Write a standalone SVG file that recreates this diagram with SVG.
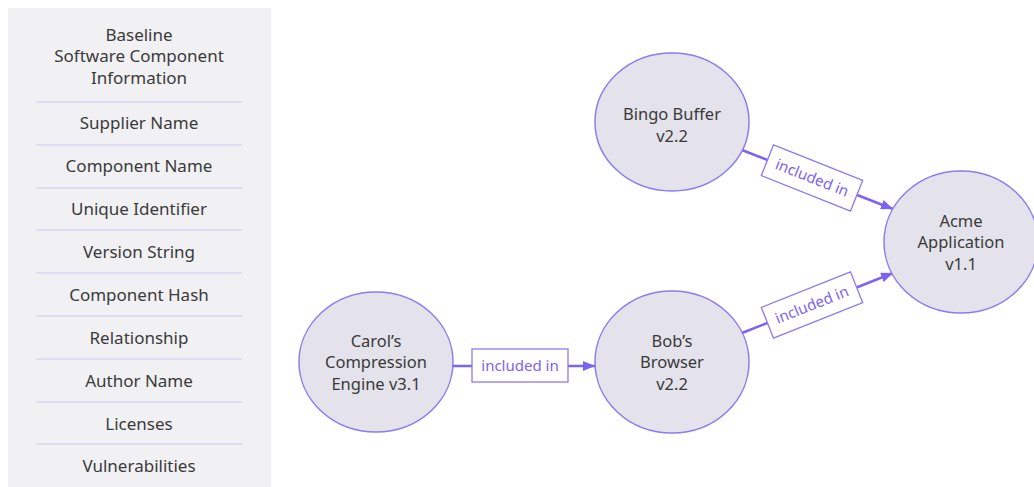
<svg xmlns="http://www.w3.org/2000/svg" width="1034" height="487" viewBox="0 0 1034 487">
  <style>
    .panel { fill: #f1f1f4; }
    .divider { stroke: #cdc8f3; stroke-width: 1.2; }
    .ptext { font-family: "Noto Sans", "Open Sans", sans-serif; font-size: 17px; fill: #3a3a3a; text-anchor: middle; }
    .node { fill: #e4e3ec; stroke: #8a7cf2; stroke-width: 1.5; }
    .ntext { font-family: "Noto Sans", "Open Sans", sans-serif; font-size: 16.5px; fill: #3a3a3a; text-anchor: middle; }
    .edge { stroke: #7a63f5; stroke-width: 2.5; fill: none; }
    .lbox { fill: #ffffff; stroke: #8a7cf2; stroke-width: 1.3; }
    .ltext { font-family: "Noto Sans", "Open Sans", sans-serif; font-size: 15px; fill: #7a63f5; text-anchor: middle; }
  </style>
  <defs>
    <marker id="arrow" markerWidth="12" markerHeight="10" refX="12" refY="5" orient="auto" markerUnits="userSpaceOnUse">
      <path d="M0,0 L12,5 L0,10 Z" fill="#7a63f5"/>
    </marker>
  </defs>

  <rect width="1034" height="487" fill="#ffffff"/>

  <!-- Field list panel -->
  <g id="field-list">
    <rect class="panel" x="8" y="8" width="263" height="479"/>
    <text class="ptext" x="139" y="41">Baseline</text>
    <text class="ptext" x="139" y="62">Software Component</text>
    <text class="ptext" x="139" y="84">Information</text>
    <g>
      <line class="divider" x1="36" y1="102" x2="242" y2="102"/>
      <line class="divider" x1="36" y1="145" x2="242" y2="145"/>
      <line class="divider" x1="36" y1="188" x2="242" y2="188"/>
      <line class="divider" x1="36" y1="230" x2="242" y2="230"/>
      <line class="divider" x1="36" y1="273" x2="242" y2="273"/>
      <line class="divider" x1="36" y1="316" x2="242" y2="316"/>
      <line class="divider" x1="36" y1="359" x2="242" y2="359"/>
      <line class="divider" x1="36" y1="402" x2="242" y2="402"/>
      <line class="divider" x1="36" y1="444" x2="242" y2="444"/>
    </g>
    <text class="ptext" x="139" y="129">Supplier Name</text>
    <text class="ptext" x="139" y="172">Component Name</text>
    <text class="ptext" x="139" y="215">Unique Identifier</text>
    <text class="ptext" x="139" y="258">Version String</text>
    <text class="ptext" x="139" y="301">Component Hash</text>
    <text class="ptext" x="139" y="344">Relationship</text>
    <text class="ptext" x="139" y="387">Author Name</text>
    <text class="ptext" x="139" y="430">Licenses</text>
    <text class="ptext" x="139" y="472">Vulnerabilities</text>
  </g>

  <!-- Connectors -->
  <g id="connectors">
    <line class="edge" x1="453" y1="366" x2="595" y2="366" marker-end="url(#arrow)"/>
    <line class="edge" x1="742" y1="150" x2="893" y2="209" marker-end="url(#arrow)"/>
    <line class="edge" x1="742" y1="333" x2="893" y2="273" marker-end="url(#arrow)"/>

    <g id="label-carol-bob">
      <rect class="lbox" x="472" y="349" width="96" height="33"/>
      <text class="ltext" x="520" y="371">included in</text>
    </g>
    <g id="label-bingo-acme" transform="translate(812,178) rotate(21.7)">
      <rect class="lbox" x="-48" y="-16.5" width="96" height="33"/>
      <text class="ltext" x="0" y="5">included in</text>
    </g>
    <g id="label-bob-acme" transform="translate(812,305) rotate(-21.7)">
      <rect class="lbox" x="-48" y="-16.5" width="96" height="33"/>
      <text class="ltext" x="0" y="5">included in</text>
    </g>
  </g>

  <!-- Nodes -->
  <g id="node-bingo">
    <ellipse class="node" cx="672" cy="122" rx="77" ry="69"/>
    <text class="ntext" x="672" y="120">Bingo Buffer</text>
    <text class="ntext" x="672" y="142">v2.2</text>
  </g>
  <g id="node-acme">
    <ellipse class="node" cx="961" cy="242" rx="77" ry="71"/>
    <text class="ntext" x="961" y="227">Acme</text>
    <text class="ntext" x="961" y="248">Application</text>
    <text class="ntext" x="961" y="270">v1.1</text>
  </g>
  <g id="node-carol">
    <ellipse class="node" cx="376" cy="362" rx="77" ry="70"/>
    <text class="ntext" x="376" y="347">Carol’s</text>
    <text class="ntext" x="376" y="368">Compression</text>
    <text class="ntext" x="376" y="390">Engine v3.1</text>
  </g>
  <g id="node-bob">
    <ellipse class="node" cx="672" cy="362" rx="77" ry="71"/>
    <text class="ntext" x="672" y="347">Bob’s</text>
    <text class="ntext" x="672" y="368">Browser</text>
    <text class="ntext" x="672" y="390">v2.2</text>
  </g>
</svg>
